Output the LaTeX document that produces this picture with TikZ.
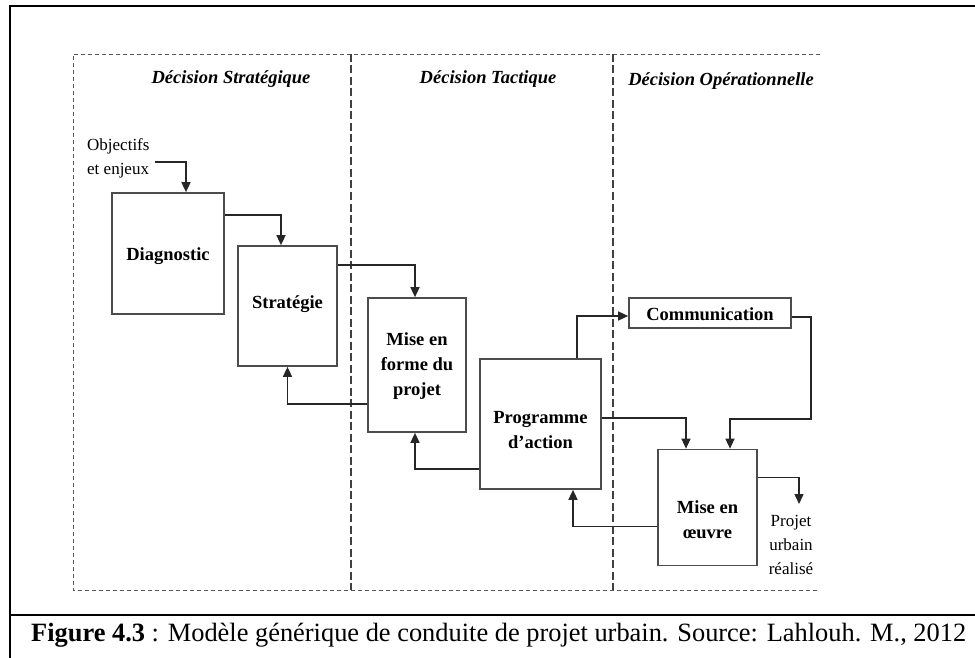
\documentclass[tikz,border=0pt]{standalone}
\usepackage{fontspec}
\setmainfont{Liberation Serif}
\usetikzlibrary{arrows.meta}
\begin{document}
\begin{tikzpicture}[x=1pt,y=-1pt,
  frameline/.style={line width=2.3pt,black},
  zoneline/.style={line width=0.9pt,black!65,dash pattern=on 4pt off 3pt},
  divider/.style={line width=1.1pt,black!75,dash pattern=on 8pt off 3.5pt},
  stagebox/.style={draw=black!70,line width=1.7pt,inner sep=0pt},
  boxtext/.style={inner sep=0pt,align=center,font=\fontsize{18.5}{25}\selectfont\bfseries},
  plaintext/.style={inner sep=0pt,align=left,font=\fontsize{17}{24}\selectfont},
  header/.style={inner sep=0pt,font=\fontsize{18.5}{22}\selectfont\bfseries\itshape},
  arr/.style={line width=1.5pt,black!85,-{Triangle[length=10pt,width=9pt]}}
]
\useasboundingbox (0,0) rectangle (975,658);

% outer figure frame and caption rule
\draw[frameline] (10,658) -- (10,6) -- (975,6);
\draw[frameline] (10,615) -- (975,615);

% dashed zone frame and the two dividers
\draw[zoneline] (820,54) -- (73,54) -- (73,590) -- (820,590);
\draw[divider] (351,54) -- (351,590);
\draw[divider] (613,54) -- (613,590);

% zone headers
\node[header] (hS) at (231,79) {Décision Stratégique};
\node[header] (hT) at (488,79) {Décision Tactique};
\node[header] (hO) at (721,81) {Décision Opérationnelle};

% stage boxes
\node[stagebox,minimum width=112pt,minimum height=121pt] (diag) at (168,253.5) {};
\node[stagebox,minimum width=99pt,minimum height=120pt] (strat) at (287.5,306) {};
\node[stagebox,minimum width=98pt,minimum height=134pt] (mef) at (417,365) {};
\node[stagebox,minimum width=121pt,minimum height=130pt] (prog) at (540.5,424) {};
\node[stagebox,minimum width=162pt,minimum height=30pt] (comm) at (710,313) {};
\node[stagebox,minimum width=99pt,minimum height=116pt] (moe) at (707.5,507.5) {};

% box labels
\node[boxtext] (diagT) at (168,256) {Diagnostic};
\node[boxtext] (stratT) at (287.5,304) {Stratégie};
\node[boxtext] (mefT) at (417,366) {Mise en\\forme du\\projet};
\node[boxtext] (progT) at (540.5,430) {Programme\\d’action};
\node[boxtext] (commT) at (710,314) {Communication};
\node[boxtext] (moeT) at (707.5,520) {Mise en\\œuvre};

% free texts
\node[plaintext,anchor=west] (objT) at (87,158) {Objectifs\\et enjeux};
\node[plaintext,align=center] (resT) at (791,545) {Projet\\urbain\\réalisé};

% connectors
\coordinate (objEnd) at (155,162);
\coordinate (commTurn) at (811,419);
\coordinate (resEnd) at (799,504);

\draw[arr] (objEnd) -| ([xshift=18pt]diag.north);
\draw[arr] ([yshift=-23pt]diag.north east) -| ([xshift=-6.5pt]strat.north);
\draw[arr] ([yshift=-20pt]strat.north east) -| ([xshift=-2pt]mef.north);
\draw[arr] ([yshift=29pt]mef.south west) -| (strat.south);
\draw[arr] ([yshift=21pt]prog.south west) -| ([xshift=-2pt]mef.south);
\draw[arr] ([xshift=36.5pt]prog.north) |- ([yshift=-3pt]comm.west);
\draw[arr] ([yshift=-60pt]prog.north east) -| ([xshift=-21.5pt]moe.north);
\draw[arr] ([yshift=-4pt]comm.east) -| (commTurn) -| ([xshift=22.5pt]moe.north);
\draw[arr] ([yshift=-78pt]moe.north west) -| ([xshift=32.5pt]prog.south);
\draw[arr] ([yshift=-29pt]moe.north east) -| (resEnd);

% caption
\node[inner sep=0pt,anchor=base west,font=\fontsize{26.4}{30}\selectfont] (cap) at (31,641)
  {\textbf{Figure 4.3} : Modèle générique de conduite de projet urbain. Source: Lahlouh. M., 2012};
\end{tikzpicture}
\end{document}
